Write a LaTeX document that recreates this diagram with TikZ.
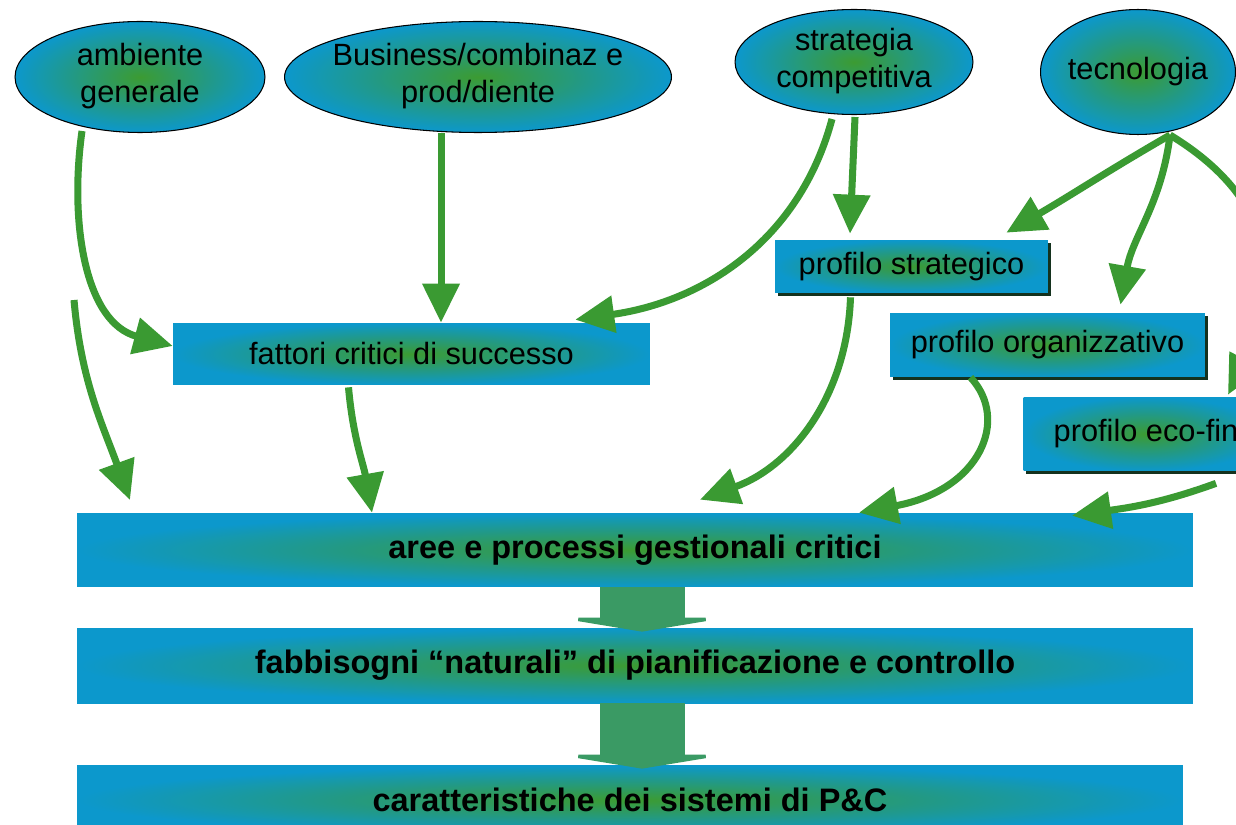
\documentclass[tikz,border=0pt]{standalone}
\usepackage{fontspec}
\setmainfont{Liberation Sans}
\usetikzlibrary{shapes.geometric,arrows.meta,calc,shadows}
\definecolor{boxblue}{RGB}{12,152,204}
\definecolor{boxgreen}{RGB}{60,155,50}
\definecolor{arrgreen}{RGB}{58,154,50}
\definecolor{blockgreen}{RGB}{58,154,100}
\definecolor{shadowc}{RGB}{20,50,30}
\newcommand{\ctxt}[1]{\makebox[0pt][c]{\begin{tabular}{@{}c@{}}#1\end{tabular}}}
\begin{document}
\begin{tikzpicture}[x=0.02cm,y=-0.02cm,
  ell/.style={ellipse, draw=black, line width=0.6pt, inner color=boxgreen, outer color=boxblue, inner sep=0pt, font=\fontsize{17.5}{21}\selectfont},
  box/.style={rectangle, inner color=boxgreen, outer color=boxblue, inner sep=0pt, font=\fontsize{17.5}{21}\selectfont},
  prof/.style={box, general shadow={fill=shadowc, shadow xshift=1.6pt, shadow yshift=-1.6pt}},
  bar/.style={box, font=\bfseries\fontsize{18.5}{22}\selectfont},
  conn/.style={draw=arrgreen, line width=4pt, -{Triangle[width=0.72cm,length=0.78cm]}},
  blockarr/.style={draw=blockgreen, line width=1.7cm, -{Triangle[width=3.4cm,length=0.28cm]}, shorten >=-0.08cm}
]
\useasboundingbox (0,0) rectangle (1236,824);
\fill[white] (0,0) rectangle (1236,824);

% ellipses
\node[ell, minimum width=5cm, minimum height=2.22cm] (amb) at (140,77) {\ctxt{ambiente\\generale}};
\node[ell, minimum width=7.74cm, minimum height=2.22cm] (bus) at (478,77) {\ctxt{Business/combinaz e\\prod/diente}};
\node[ell, minimum width=4.76cm, minimum height=2.1cm] (str) at (854,62) {\ctxt{strategia\\competitiva}};
\node[ell, minimum width=3.9cm, minimum height=2.5cm] (tec) at (1138,72) {\ctxt{tecnologia}};

% boxes
\node[box, minimum width=9.54cm, minimum height=1.24cm] (fat) at (411.5,354) {fattori critici di successo};
\node[prof, minimum width=5.46cm, minimum height=1.06cm] (ps) at (911.5,266.5) {profilo strategico};
\node[prof, minimum width=6.3cm, minimum height=1.28cm] (po) at (1047.5,345) {profilo organizzativo};
\node[prof, minimum width=4.9cm, minimum height=1.48cm] (pe) at (1146,434) {profilo eco-fin};

\node[bar, minimum width=22.32cm, minimum height=1.48cm] (aree) at (635,550) {aree e processi gestionali critici};
\node[bar, minimum width=22.32cm, minimum height=1.5cm] (fab) at (635,665.5) {fabbisogni “naturali” di pianificazione e controllo};
\node[bar, minimum width=22.12cm, minimum height=1.4cm] (car) at (630,800) {caratteristiche dei sistemi di P\&C};

% block arrows
\draw[blockarr] ([xshift=0.14cm]aree.south) -- ([xshift=0.14cm]aree.south |- fab.north);
\draw[blockarr] ([xshift=0.14cm]fab.south) -- ([xshift=0.14cm]fab.south |- car.north);

% connectors
\coordinate (c1) at (74,300);
\coordinate (c2) at (130,500);
\coordinate (tecout) at ($(tec.south)+(32,0)$);

\draw[conn] ($(amb.center)+(-58,54)$) to[out=-98,in=165] ($(fat.west)+(0,-8)$);
\draw[conn] (c1) to[out=-85,in=110] (c2);
\draw[conn] ([xshift=-0.74cm]bus.south) -- ([xshift=-0.74cm]bus.south |- fat.north);
\draw[conn] ($(str.south)+(-22,4)$) to[out=-105,in=8] ($(fat.north east)+(-75,-3)$);
\draw[conn] ($(str.south)+(1,2)$) -- ($(str.south |- ps.north)+(-4,-6)$);
\draw[conn] ($(ps.south)+(-61,4)$) to[out=-92,in=20] ($(aree.north)+(65,-13)$);
\draw[conn] (tecout) to[out=-150,in=30] ($(ps.north east)+(-42,-7)$);
\draw[conn] (tecout) to[out=-97,in=80] ($(po.north)+(73,-8)$);
\draw[conn] (tecout) .. controls (1310,220) and (1262,330) .. ($(pe.north)+(82,-2)$);
\draw[conn] ($(po.south)+(-77,0)$) .. controls (1010,420) and (980,490) .. ($(aree.north)+(224,0)$);
\draw[conn] ($(pe.south)+(70,12)$) to[out=-160,in=8] ($(aree.north)+(437,3)$);
\draw[conn] ($(fat.south)+(-63,2)$) to[out=-85,in=100] ($(aree.north)+(-263,0)$);
\end{tikzpicture}
\end{document}
